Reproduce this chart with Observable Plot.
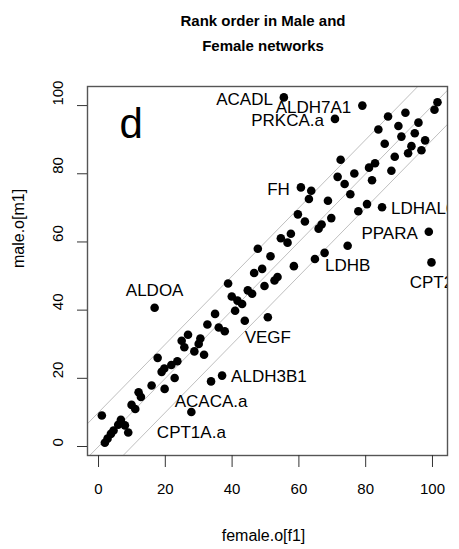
<!DOCTYPE html>
<html><head><meta charset="utf-8">
<script src="https://cdn.jsdelivr.net/npm/d3@7"></script>
<script src="https://cdn.jsdelivr.net/npm/@observablehq/plot@0.6"></script>
<style>
body{margin:0;background:#fff;font-family:"Liberation Sans",Arial,sans-serif;}
#wrap{position:relative;width:459px;height:549px;}
#chart{position:absolute;left:0;top:0;}
#title{position:absolute;left:80px;width:366px;top:8px;text-align:center;font-weight:bold;font-size:15px;line-height:25px;color:#000;z-index:2;}
</style></head><body>
<div id="wrap"><div id="chart"></div><div id="title">Rank order in Male and<br>Female networks</div></div>
<script>
// Unlabelled genes: rank in female network (x) and male network (y)
const femaleRank = [101.5,100.6,91.9,86.7,95.8,89.8,83.8,94.7,90.7,97.8,85.7,93.7,96.7,92.7,88.7,72.5,82.8,81.0,87.7,76.6,71.6,81.9,73.7,63.7,63.0,75.4,68.7,80.4,77.8,59.7,69.7,61.8,66.8,65.9,57.6,54.6,56.6,67.7,64.8,47.7,51.5,58.5,49.0,46.6,53.6,52.7,49.7,38.8,39.9,41.6,43.0,44.7,46.0,40.9,43.8,34.9,32.6,36.0,37.8,26.8,30.5,24.9,25.7,28.7,30.0,31.6,17.7,23.6,21.8,19.7,18.9,22.8,15.9,19.8,12.0,12.7,9.9,11.0,1.0,6.7,5.9,7.9,8.9,4.5,3.7,2.7,1.9];
const maleRank   = [101.0,98.8,97.9,96.8,95.0,94.0,93.0,91.9,90.9,89.8,88.8,88.1,86.9,86.0,85.0,84.1,83.1,81.8,80.9,80.1,79.1,78.1,77.0,75.0,72.6,74.0,72.1,71.1,69.0,68.1,67.0,66.0,65.1,63.9,62.4,61.1,59.8,56.8,55.0,58.0,55.8,52.9,52.1,50.9,49.7,48.7,47.1,47.8,44.0,42.8,41.8,45.8,44.8,39.8,36.9,38.9,35.8,34.9,33.8,32.8,31.7,31.0,29.1,27.9,30.1,26.9,26.0,25.0,23.9,22.9,21.9,20.1,17.9,16.9,15.9,14.5,12.2,11.0,9.1,7.8,6.4,6.2,4.1,4.7,3.7,2.3,1.1];

// Labelled genes
const labelGenes  = ["ACADL","ALDH7A1","PRKCA.a","FH","LDHAL6B","PPARA","LDHB","CPT2","ALDOA","VEGF","ALDH3B1","ACACA.a","CPT1A.a"];
const labelFemale = [55.5,79.0,70.8,60.6,84.9,98.9,74.6,99.7,16.8,50.7,37.0,33.7,27.8];
const labelMale   = [102.4,100.0,96.1,76.0,70.2,63.0,58.9,54.0,40.7,37.9,20.8,19.1,10.1];
const labelSide   = ["left","left","left","left","right","left","below","below","above","below","right","below","below"];

const xTicks = [0,20,40,60,80,100];
const yTicks = [0,20,40,60,80,100];
const bandOffsets = [-10,0,10];
const panelLetter = "d";
const xTitle = "female.o[f1]";
const yTitle = "male.o[m1]";

const points = femaleRank.map((f,i)=>({female:f, male:maleRank[i]}));
const labels = labelGenes.map((g,i)=>({gene:g, female:labelFemale[i], male:labelMale[i], side:labelSide[i]}));
const sideOpts = {
  left:  {textAnchor:"end",   dx:-11, dy:2},
  right: {textAnchor:"start", dx:9,   dy:1},
  below: {textAnchor:"middle",dx:0,   dy:20},
  above: {textAnchor:"middle",dx:0,   dy:-17}
};
const labelMarks = Object.keys(sideOpts).map(s =>
  Plot.text(labels.filter(d=>d.side===s), {x:"female", y:"male", text:"gene", fontSize:17, clip:true, ...sideOpts[s]})
);

const font = '"Liberation Sans", Arial, sans-serif';
const chart = Plot.plot({
  width:459, height:549,
  marginLeft:87, marginRight:12, marginTop:86, marginBottom:94,
  style:{fontFamily:font, fontSize:"15px", background:"white", color:"black"},
  x:{domain:[-3.3,104.5]},
  y:{domain:[-2.64,105.6]},
  marks:[
    Plot.link(bandOffsets, {x1:()=>-20, y1:d=>-20+d, x2:()=>130, y2:d=>130+d, stroke:"#b8b8b8", strokeWidth:0.9, clip:true}),
    Plot.dot(points, {x:"female", y:"male", r:4.3, fill:"black", stroke:"none"}),
    Plot.dot(labels, {x:"female", y:"male", r:4.3, fill:"black", stroke:"none"}),
    ...labelMarks,
    Plot.text([panelLetter], {text:d=>d, frameAnchor:"top-left", textAnchor:"start", lineAnchor:"top", dx:32, dy:22, fontSize:42}),
    Plot.frame({stroke:"#555", strokeWidth:1.4}),
    Plot.axisX({ticks:xTicks, tickSize:12, tickFormat:()=>"", label:null, stroke:"#333"}),
    Plot.axisY({ticks:yTicks, tickSize:10, tickFormat:()=>"", label:null, stroke:"#333"}),
    Plot.text(xTicks, {x:d=>d, text:d=>String(d), frameAnchor:"bottom", dy:38, fontSize:15}),
    Plot.text(yTicks, {y:d=>d, text:d=>String(d), frameAnchor:"left", dx:-29, rotate:-90, fontSize:15}),
    Plot.text([xTitle], {text:d=>d, frameAnchor:"bottom", dx:-4, dy:85, fontSize:16}),
    Plot.text([yTitle], {text:d=>d, frameAnchor:"left", dx:-69, dy:-3, rotate:-90, fontSize:16})
  ]
});
document.getElementById("chart").appendChild(chart);
</script>
</body></html>
